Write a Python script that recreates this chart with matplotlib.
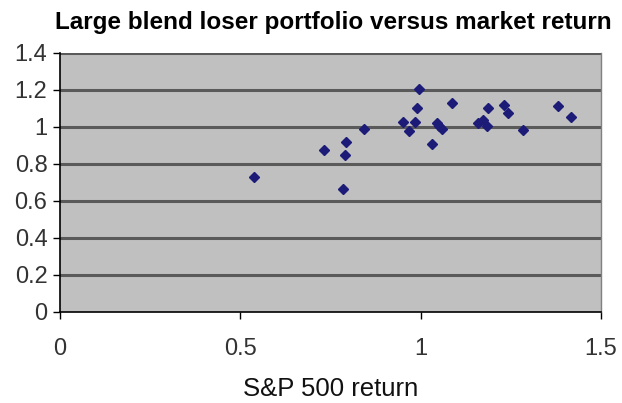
import numpy as np
import matplotlib.pyplot as plt

# S&P 500 return vs large blend loser portfolio return
sp500 = [0.537, 0.732, 0.792, 0.791, 0.784, 0.842, 0.952, 0.969, 0.983, 0.990,
         0.995, 1.032, 1.045, 1.052, 1.059, 1.087, 1.160, 1.172, 1.185, 1.188,
         1.232, 1.241, 1.283, 1.380, 1.418]
loser = [0.726, 0.876, 0.916, 0.847, 0.661, 0.988, 1.027, 0.978, 1.027, 1.103,
         1.204, 0.905, 1.022, 1.004, 0.986, 1.130, 1.018, 1.036, 1.004, 1.103,
         1.117, 1.072, 0.980, 1.112, 1.054]

x_ticks = [0, 0.5, 1, 1.5]
y_ticks = [0, 0.2, 0.4, 0.6, 0.8, 1.0, 1.2, 1.4]
y_labels = ["0", "0.2", "0.4", "0.6", "0.8", "1", "1.2", "1.4"]

plt.rcParams["font.family"] = ["Liberation Sans", "DejaVu Sans"]

W, H = 622, 403
fig = plt.figure(figsize=(W / 100, H / 100), dpi=100)
ax = fig.add_axes([60 / W, (H - 311.7) / H, (601 - 60) / W, (311.7 - 52.7) / H])
ax.set_facecolor("#c0c0c0")

ax.set_xlim(0, 1.5)
ax.set_ylim(0, 1.4)
ax.set_xticks(x_ticks)
ax.set_xticklabels(["0", "0.5", "1", "1.5"])
ax.set_yticks(y_ticks)
ax.set_yticklabels(y_labels)

for y in y_ticks[1:]:
    ax.axhline(y, color="#5a5a5a", lw=2.2, zorder=1)

ax.plot(sp500, loser, linestyle="none", marker="D", markersize=5,
        color="#1c1c78", zorder=3, clip_on=False)

for side in ["top", "right"]:
    ax.spines[side].set_color("#808080")
    ax.spines[side].set_linewidth(1)
ax.spines["top"].set_visible(False)
for side in ["left", "bottom"]:
    ax.spines[side].set_color("black")
    ax.spines[side].set_linewidth(1.2)

ax.tick_params(direction="out", length=5, width=1, colors="black",
               labelsize=17, labelcolor="#333333")
ax.tick_params(axis="x", pad=14)
ax.tick_params(axis="y", pad=4)

ax.set_xlabel("S&P 500 return", fontsize=18.5, color="#111111", labelpad=12)
fig.text(0.5 * (55 + 612) / W, 1 - 22 / H,
         "Large blend loser portfolio versus market return",
         fontsize=17.5, fontweight="bold", ha="center", va="center")

fig.savefig("out.png", dpi=100)
plt.close()
